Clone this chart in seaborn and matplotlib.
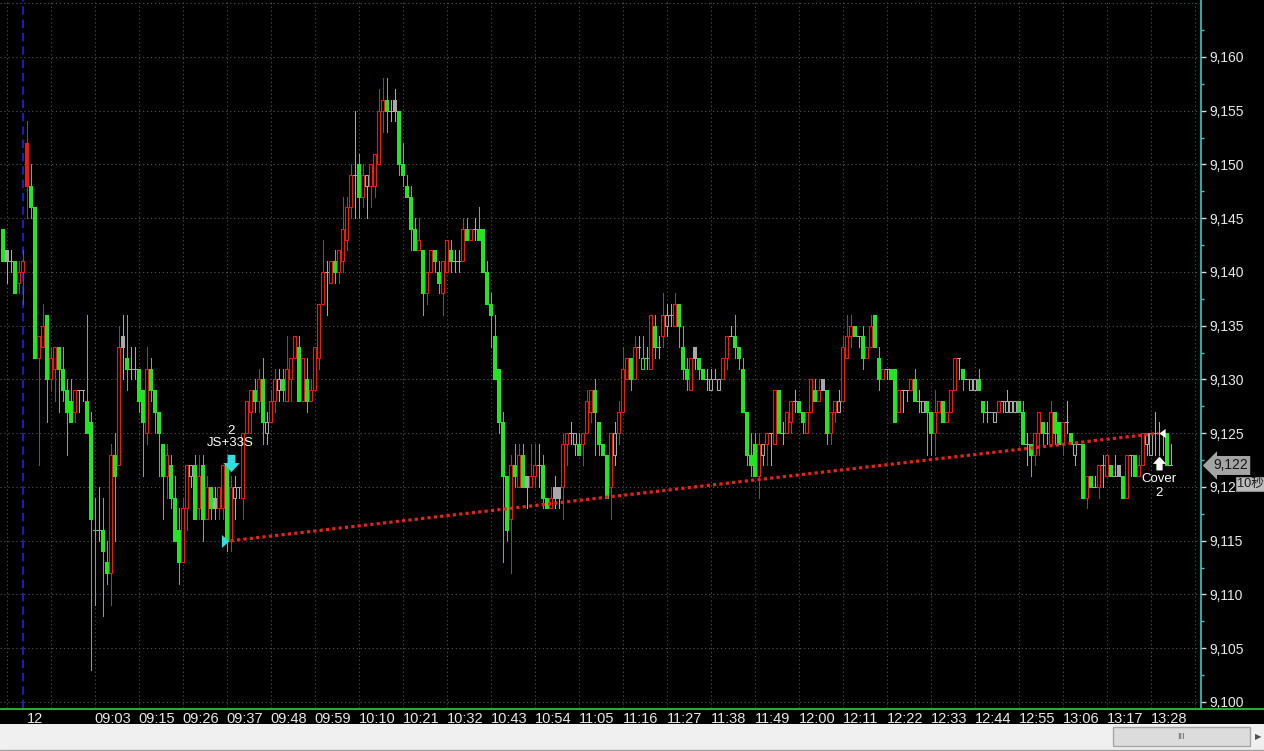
import matplotlib
matplotlib.use("Agg")
import matplotlib.pyplot as plt
import numpy as np
import pandas as pd
import seaborn as sns
from matplotlib.transforms import ScaledTranslation, blended_transform_factory
from matplotlib.patches import Rectangle
from matplotlib.lines import Line2D

# ---------------- data (1-minute bars) ----------------
opens = [
    9144, 9142, 9141, 9141, 9139, 9140, 9152, 9148, 9146, 9132,
    9133, 9136, 9130, 9131, 9133, 9131, 9129, 9128, 9127, 9129,
    9129, 9128, 9126, 9116, 9116, 9116, 9113, 9112, 9123, 9122,
    9134, 9132, 9131, 9131, 9131, 9129, 9125, 9131, 9129, 9127,
    9124, 9121, 9122, 9119, 9116, 9113, 9118, 9121, 9122, 9118,
    9122, 9117, 9120, 9119, 9118, 9118, 9122, 9115, 9119, 9120,
    9119, 9125, 9127, 9129, 9128, 9130, 9125, 9126, 9128, 9129,
    9130, 9128, 9130, 9132, 9133, 9128, 9130, 9128, 9129, 9132,
    9137, 9140, 9139, 9141, 9140, 9141, 9143, 9146, 9149, 9150,
    9147, 9148, 9148, 9148, 9150, 9155, 9156, 9155, 9156, 9155,
    9150, 9148, 9147, 9144, 9142, 9142, 9138, 9140, 9142, 9140,
    9138, 9140, 9142, 9141, 9141, 9141, 9144, 9143, 9144, 9144,
    9144, 9140, 9137, 9134, 9131, 9126, 9121, 9117, 9122, 9120,
    9123, 9121, 9120, 9121, 9122, 9122, 9119, 9118, 9120, 9120,
    9120, 9124, 9125, 9124, 9124, 9124, 9125, 9127, 9129, 9126,
    9124, 9123, 9120, 9123, 9125, 9127, 9130, 9132, 9130, 9133,
    9131, 9132, 9131, 9135, 9133, 9134, 9135, 9136, 9135, 9137,
    9133, 9131, 9129, 9133, 9132, 9131, 9130, 9129, 9130, 9129,
    9130, 9132, 9134, 9134, 9133, 9131, 9127, 9123, 9124, 9121,
    9123, 9124, 9125, 9124, 9129, 9125, 9125, 9126, 9128, 9128,
    9127, 9125, 9127, 9129, 9128, 9130, 9129, 9125, 9127, 9127,
    9128, 9132, 9134, 9135, 9134, 9134, 9132, 9133, 9136, 9132,
    9130, 9131, 9131, 9131, 9127, 9129, 9129, 9129, 9130, 9128,
    9127, 9128, 9127, 9125, 9127, 9128, 9126, 9127, 9129, 9132,
    9131, 9130, 9129, 9129, 9130, 9128, 9127, 9127, 9126, 9127,
    9128, 9127, 9127, 9127, 9128, 9127, 9124, 9124, 9123, 9125,
    9126, 9125, 9124, 9127, 9126, 9124, 9126, 9125, 9123, 9124,
    9124, 9119, 9121, 9120, 9120, 9122, 9121, 9122, 9121, 9122,
    9121, 9119, 9123, 9123, 9121, 9122, 9124, 9123, 9125, 9125,
    9125, 9125, 9122,
]
highs = [
    9144, 9142, 9142, 9141, 9141, 9142, 9154, 9150, 9146, 9134,
    9137, 9136, 9133, 9133, 9133, 9133, 9130, 9130, 9129, 9129,
    9129, 9136, 9127, 9119, 9120, 9119, 9115, 9124, 9125, 9135,
    9136, 9136, 9133, 9133, 9131, 9129, 9133, 9132, 9129, 9127,
    9124, 9124, 9123, 9121, 9118, 9119, 9122, 9122, 9123, 9123,
    9123, 9121, 9120, 9120, 9120, 9122, 9122, 9121, 9121, 9120,
    9125, 9128, 9129, 9130, 9131, 9132, 9127, 9129, 9131, 9131,
    9131, 9134, 9132, 9134, 9134, 9132, 9132, 9130, 9133, 9137,
    9143, 9141, 9141, 9142, 9142, 9147, 9147, 9150, 9155, 9151,
    9150, 9149, 9150, 9151, 9157, 9158, 9158, 9156, 9157, 9155,
    9152, 9149, 9148, 9145, 9145, 9142, 9140, 9142, 9142, 9141,
    9141, 9143, 9143, 9142, 9142, 9145, 9145, 9144, 9145, 9146,
    9144, 9141, 9138, 9136, 9131, 9127, 9121, 9123, 9124, 9124,
    9124, 9121, 9124, 9124, 9124, 9123, 9119, 9120, 9121, 9120,
    9125, 9125, 9126, 9125, 9125, 9125, 9129, 9129, 9130, 9126,
    9124, 9123, 9125, 9126, 9128, 9133, 9132, 9132, 9134, 9134,
    9134, 9133, 9136, 9136, 9134, 9138, 9137, 9137, 9138, 9137,
    9135, 9132, 9132, 9133, 9132, 9131, 9131, 9131, 9131, 9130,
    9132, 9134, 9135, 9136, 9133, 9132, 9127, 9125, 9125, 9125,
    9124, 9125, 9125, 9129, 9129, 9126, 9127, 9128, 9129, 9128,
    9127, 9127, 9130, 9130, 9130, 9130, 9129, 9127, 9128, 9129,
    9134, 9136, 9136, 9135, 9134, 9135, 9133, 9136, 9136, 9133,
    9131, 9131, 9131, 9131, 9129, 9129, 9129, 9130, 9131, 9129,
    9128, 9128, 9127, 9129, 9128, 9128, 9127, 9129, 9132, 9132,
    9131, 9130, 9130, 9130, 9131, 9128, 9128, 9127, 9127, 9128,
    9128, 9129, 9128, 9128, 9128, 9128, 9125, 9124, 9125, 9127,
    9126, 9126, 9128, 9127, 9126, 9126, 9128, 9125, 9124, 9124,
    9124, 9121, 9121, 9121, 9122, 9123, 9123, 9122, 9123, 9122,
    9121, 9123, 9123, 9123, 9123, 9125, 9125, 9125, 9127, 9126,
    9125, 9125, 9124,
]
lows = [
    9141, 9139, 9140, 9138, 9138, 9137, 9145, 9145, 9132, 9122,
    9133, 9126, 9129, 9128, 9127, 9128, 9123, 9126, 9126, 9127,
    9128, 9125, 9103, 9109, 9115, 9108, 9111, 9109, 9115, 9122,
    9130, 9129, 9130, 9130, 9127, 9121, 9124, 9128, 9125, 9121,
    9117, 9119, 9118, 9115, 9111, 9113, 9116, 9120, 9117, 9117,
    9115, 9117, 9117, 9117, 9117, 9117, 9114, 9114, 9117, 9119,
    9117, 9125, 9125, 9127, 9127, 9124, 9124, 9126, 9127, 9128,
    9128, 9128, 9128, 9132, 9128, 9128, 9127, 9128, 9129, 9131,
    9137, 9136, 9139, 9139, 9139, 9140, 9142, 9145, 9145, 9145,
    9146, 9145, 9146, 9147, 9150, 9153, 9153, 9154, 9154, 9149,
    9148, 9147, 9142, 9142, 9142, 9136, 9137, 9140, 9140, 9138,
    9136, 9140, 9140, 9140, 9140, 9141, 9143, 9143, 9143, 9143,
    9140, 9137, 9133, 9130, 9125, 9113, 9115, 9112, 9120, 9120,
    9120, 9118, 9120, 9120, 9120, 9118, 9118, 9118, 9118, 9118,
    9117, 9122, 9124, 9123, 9123, 9122, 9125, 9126, 9123, 9123,
    9123, 9119, 9117, 9122, 9124, 9127, 9130, 9129, 9130, 9132,
    9131, 9131, 9131, 9132, 9132, 9133, 9134, 9135, 9135, 9133,
    9130, 9129, 9129, 9131, 9130, 9130, 9129, 9129, 9130, 9129,
    9130, 9131, 9134, 9132, 9131, 9127, 9122, 9121, 9121, 9119,
    9122, 9122, 9122, 9124, 9125, 9124, 9125, 9125, 9127, 9127,
    9125, 9125, 9127, 9128, 9128, 9129, 9124, 9124, 9126, 9127,
    9128, 9132, 9133, 9134, 9133, 9131, 9132, 9133, 9133, 9129,
    9130, 9130, 9130, 9126, 9127, 9127, 9128, 9129, 9128, 9127,
    9127, 9123, 9123, 9123, 9127, 9126, 9126, 9127, 9129, 9130,
    9129, 9130, 9129, 9129, 9129, 9126, 9126, 9127, 9126, 9127,
    9127, 9127, 9127, 9127, 9127, 9124, 9122, 9121, 9122, 9123,
    9124, 9124, 9124, 9124, 9124, 9123, 9125, 9124, 9122, 9124,
    9119, 9118, 9120, 9120, 9119, 9120, 9121, 9121, 9121, 9121,
    9119, 9119, 9121, 9121, 9121, 9122, 9123, 9123, 9123, 9123,
    9123, 9122, 9122,
]
closes = [
    9141, 9141, 9141, 9138, 9140, 9141, 9148, 9146, 9132, 9134,
    9135, 9130, 9132, 9133, 9131, 9129, 9127, 9126, 9129, 9129,
    9129, 9125, 9117, 9116, 9116, 9114, 9112, 9123, 9121, 9133,
    9133, 9131, 9131, 9131, 9128, 9126, 9131, 9129, 9127, 9125,
    9121, 9123, 9119, 9115, 9113, 9118, 9122, 9122, 9117, 9121,
    9117, 9120, 9118, 9118, 9120, 9122, 9115, 9120, 9120, 9120,
    9125, 9128, 9129, 9128, 9130, 9126, 9126, 9128, 9130, 9130,
    9129, 9131, 9132, 9134, 9128, 9132, 9128, 9129, 9133, 9137,
    9140, 9140, 9141, 9140, 9142, 9144, 9146, 9149, 9149, 9147,
    9149, 9149, 9150, 9151, 9155, 9156, 9155, 9155, 9155, 9150,
    9149, 9147, 9144, 9142, 9143, 9138, 9140, 9142, 9141, 9139,
    9141, 9143, 9141, 9141, 9141, 9144, 9143, 9144, 9144, 9143,
    9140, 9137, 9136, 9130, 9126, 9121, 9116, 9122, 9121, 9123,
    9120, 9120, 9121, 9122, 9122, 9119, 9118, 9119, 9119, 9119,
    9124, 9125, 9125, 9125, 9123, 9125, 9128, 9129, 9127, 9124,
    9123, 9119, 9125, 9125, 9127, 9131, 9132, 9130, 9133, 9133,
    9132, 9132, 9136, 9133, 9133, 9136, 9136, 9136, 9137, 9135,
    9131, 9130, 9132, 9132, 9131, 9130, 9130, 9130, 9130, 9130,
    9132, 9134, 9134, 9133, 9132, 9127, 9123, 9122, 9121, 9124,
    9124, 9125, 9125, 9129, 9125, 9125, 9127, 9128, 9128, 9127,
    9126, 9127, 9130, 9128, 9129, 9129, 9125, 9127, 9128, 9128,
    9133, 9134, 9135, 9134, 9134, 9132, 9133, 9135, 9133, 9130,
    9131, 9131, 9130, 9126, 9129, 9129, 9129, 9130, 9128, 9128,
    9128, 9127, 9125, 9127, 9128, 9126, 9127, 9129, 9132, 9132,
    9130, 9130, 9130, 9130, 9129, 9127, 9127, 9127, 9127, 9128,
    9128, 9128, 9128, 9128, 9127, 9124, 9124, 9123, 9125, 9127,
    9125, 9125, 9127, 9125, 9124, 9126, 9126, 9124, 9124, 9124,
    9119, 9121, 9120, 9120, 9122, 9122, 9123, 9121, 9121, 9121,
    9119, 9123, 9123, 9121, 9122, 9125, 9125, 9125, 9125, 9125,
    9125, 9122, 9122,
]

x_tick_bars = [1, 6, 12, 23, 34, 45, 56, 67, 78, 89, 100, 111, 122, 133, 144,
               155, 166, 177, 188, 199, 210, 221, 232, 243, 254, 265, 276, 287, 298]
x_tick_labels = ["", "12", "", "09:03", "09:15", "09:26", "09:37", "09:48", "09:59",
                 "10:10", "10:21", "10:32", "10:43", "10:54", "11:05", "11:16", "11:27",
                 "11:38", "11:49", "12:00", "12:11", "12:22", "12:33", "12:44", "12:55",
                 "13:06", "13:17", "13:28", ""]
date_label = "12"
y_ticks = [9100, 9105, 9110, 9115, 9120, 9125, 9130, 9135, 9140, 9145, 9150, 9155, 9160]
session_break_bar = 5.1
last_price = 9122
interval_label = "10秒"
entry_bar, entry_price, entry_qty, entry_name = 57, 9115, "2", "JS+33S"
exit_bar, exit_price, exit_qty, exit_name = 289, 9125, "2", "Cover"

assert len(opens) == len(highs) == len(lows) == len(closes)

# ---------------- style ----------------
sns.set_style("dark")
plt.rcParams["font.family"] = ["Liberation Sans", "Noto Sans CJK TC", "DejaVu Sans"]

RED = "#f01a12"
GREEN = "#22e622"
GRAY = "#a9a9a9"
CYAN = "#33dde6"
GRID = "#4e4e4e"

W, H = 1264, 751
fig = plt.figure(figsize=(W / 100, H / 100), dpi=100, facecolor="black")
ax = fig.add_axes([0, 1 - 708 / H, 1201 / W, 708 / H])
ax.set_facecolor("black")

o = np.array(opens, float)
hi = np.array(highs, float)
lo = np.array(lows, float)
c = np.array(closes, float)
n = len(c)
idx = np.arange(n)
prev = np.concatenate([[o[0]], c[:-1]])
col = np.where(c > prev, RED, np.where(c < prev, GREEN, GRAY))

# grid
for v in range(y_ticks[0], y_ticks[-1] + 10, 5):
    ax.axhline(v, color=GRID, lw=0.75, ls=(0, (1.2, 2.6)), zorder=0)
for b, lab in zip(x_tick_bars, x_tick_labels):
    if lab != date_label:
        ax.axvline(b, color=GRID, lw=0.75, ls=(0, (1.2, 2.6)), zorder=0)
ax.axvline(session_break_bar, color="#2323d8", lw=1.2, ls=(0, (5, 3)), zorder=1)

# wicks
ax.vlines(idx, lo, hi, colors=col, linewidth=0.72, antialiased=False, zorder=2)
# bodies: filled ones (close below open) and hollow ones (close above open)
body = c != o
filled = body & (c < o)
hollow = body & (c > o)
ax.bar(idx[filled], (o - c)[filled], bottom=c[filled], width=0.75,
       color=col[filled], edgecolor=col[filled], linewidth=0.7, antialiased=False, zorder=3)
ax.bar(idx[hollow], (c - o)[hollow], bottom=o[hollow], width=0.78,
       color="black", edgecolor=col[hollow], linewidth=0.8, antialiased=True, zorder=4)
doji = ~body
ax.hlines(o[doji], idx[doji] - 0.42, idx[doji] + 0.42, colors=col[doji], linewidth=0.72,
          antialiased=False, zorder=3)

# trade line
trade = pd.DataFrame({"bar": [entry_bar, exit_bar], "price": [entry_price, exit_price]})
sns.lineplot(data=trade, x="bar", y="price", ax=ax, color="#e8221c", linewidth=2.3,
             linestyle=(0, (1, 1)), zorder=5)
ax.set_xlabel("")
ax.set_ylabel("")

px = 1 / 100.0
def off(dx, dy):
    return ax.transData + ScaledTranslation(dx * px, dy * px, fig.dpi_scale_trans)

down_arrow = [(-0.45, 1), (0.45, 1), (0.45, 0.05), (0.95, 0.05), (0, -1), (-0.95, 0.05), (-0.45, 0.05), (-0.45, 1)]
up_arrow = [(x, -y) for x, y in down_arrow]
tri_right = [(-0.55, 1), (0.55, 0), (-0.55, -1), (-0.55, 1)]
tri_left = [(0.7, 1), (-0.7, 0), (0.7, -1), (0.7, 1)]

eh = highs[entry_bar]
xl = lows[exit_bar]
ax.plot([entry_bar], [eh], marker=down_arrow, ms=12.5, color=CYAN, mec="none", ls="none",
        transform=off(0, 13), zorder=7)
ax.plot([entry_bar], [entry_price], marker=tri_right, ms=9.4, color=CYAN, mec="none", ls="none",
        transform=off(-6, 0), zorder=7)
ax.plot([exit_bar], [xl], marker=up_arrow, ms=10, color="white", mec="none", ls="none",
        transform=off(0, -8.6), zorder=7)
ax.plot([exit_bar], [exit_price], marker=tri_left, ms=6.5, color="white", mec="none", ls="none",
        transform=off(3, 0), zorder=7)

tk = dict(ha="center", va="center", color="white", fontsize=9.5, textcoords="offset points", zorder=8)
ax.annotate(entry_qty, xy=(entry_bar, eh), xytext=(0, 45 * 0.72), **tk)
ax.annotate(entry_name, xy=(entry_bar, eh), xytext=(0, 33 * 0.72), **tk)
ax.annotate(exit_name, xy=(exit_bar, xl), xytext=(0, -24 * 0.72), **tk)
ax.annotate(exit_qty, xy=(exit_bar, xl), xytext=(0, -38 * 0.72), **tk)

# axes, spines, ticks
ax.set_xlim(-0.675, 299.575)
ax.set_ylim(9099.44, 9165.30)
for s in ("top", "left"):
    ax.spines[s].set_visible(False)
ax.spines["right"].set_color("#35c9c9")
ax.spines["right"].set_linewidth(1.2)
ax.spines["bottom"].set_visible(False)

ax.yaxis.tick_right()
ax.set_yticks(y_ticks)
ax.set_yticklabels([f"{v:,}" for v in y_ticks])
ax.set_yticks([v + 2.5 for v in y_ticks[:-1]] + [y_ticks[-1] + 2.5], minor=True)
ax.tick_params(axis="y", which="major", direction="out", length=3.5, width=1, color="#d8d8d8",
               pad=2.5, labelsize=10, labelcolor="#e8e8e8")
ax.tick_params(axis="y", which="minor", direction="out", length=2, width=1, color="#35c9c9")

ax.set_xticks(x_tick_bars)
ax.set_xticklabels(x_tick_labels)
for t in ax.get_xticklabels():
    t.set_ha("left")
ax.tick_params(axis="x", which="major", direction="in", length=3, width=1, color="#27c427",
               pad=3, labelsize=10.5, labelcolor="#e8e8e8")
ax.grid(False)

# bottom green axis line across the whole width
fig.add_artist(Line2D([0, 1], [1 - 708.5 / H] * 2, transform=fig.transFigure, color="#27c427", lw=1.3))

# current price tag and interval box
tr = blended_transform_factory(fig.transFigure, ax.transData)
fig.text(1213 / W, last_price, f"{last_price:,}", transform=tr, ha="left", va="center",
         fontsize=10, color="#151515",
         bbox=dict(boxstyle="larrow,pad=0.18", fc="#a4a4a4", ec="none"), zorder=10)
fig.text(1237 / W, 1 - 484 / H, interval_label, ha="left", va="center", fontsize=9.2,
         color="#1a1a1a", bbox=dict(boxstyle="square,pad=0.1", fc="#bcbcbc", ec="#8a8a8a", lw=0.8),
         zorder=11)

# scrollbar strip
fig.add_artist(Rectangle((0, 0), 1, 27 / H, transform=fig.transFigure, fc="#f0f0f0", ec="none"))
fig.add_artist(Line2D([0, 1], [1.5 / H] * 2, transform=fig.transFigure, color="#a0a0a0", lw=1))
fig.add_artist(Rectangle((1113 / W, 5 / H), 137 / W, 19 / H, transform=fig.transFigure,
                         fc="#dcdcdc", ec="#a6a6a6", lw=1))
fig.text(1181 / W, 14.5 / H, "III", ha="center", va="center", fontsize=6.5, color="#606060")
fig.text(1258 / W, 14.5 / H, "▶", ha="center", va="center", fontsize=6, color="#505050",
         family="DejaVu Sans")

fig.savefig("out.png", dpi=100, facecolor="black")
